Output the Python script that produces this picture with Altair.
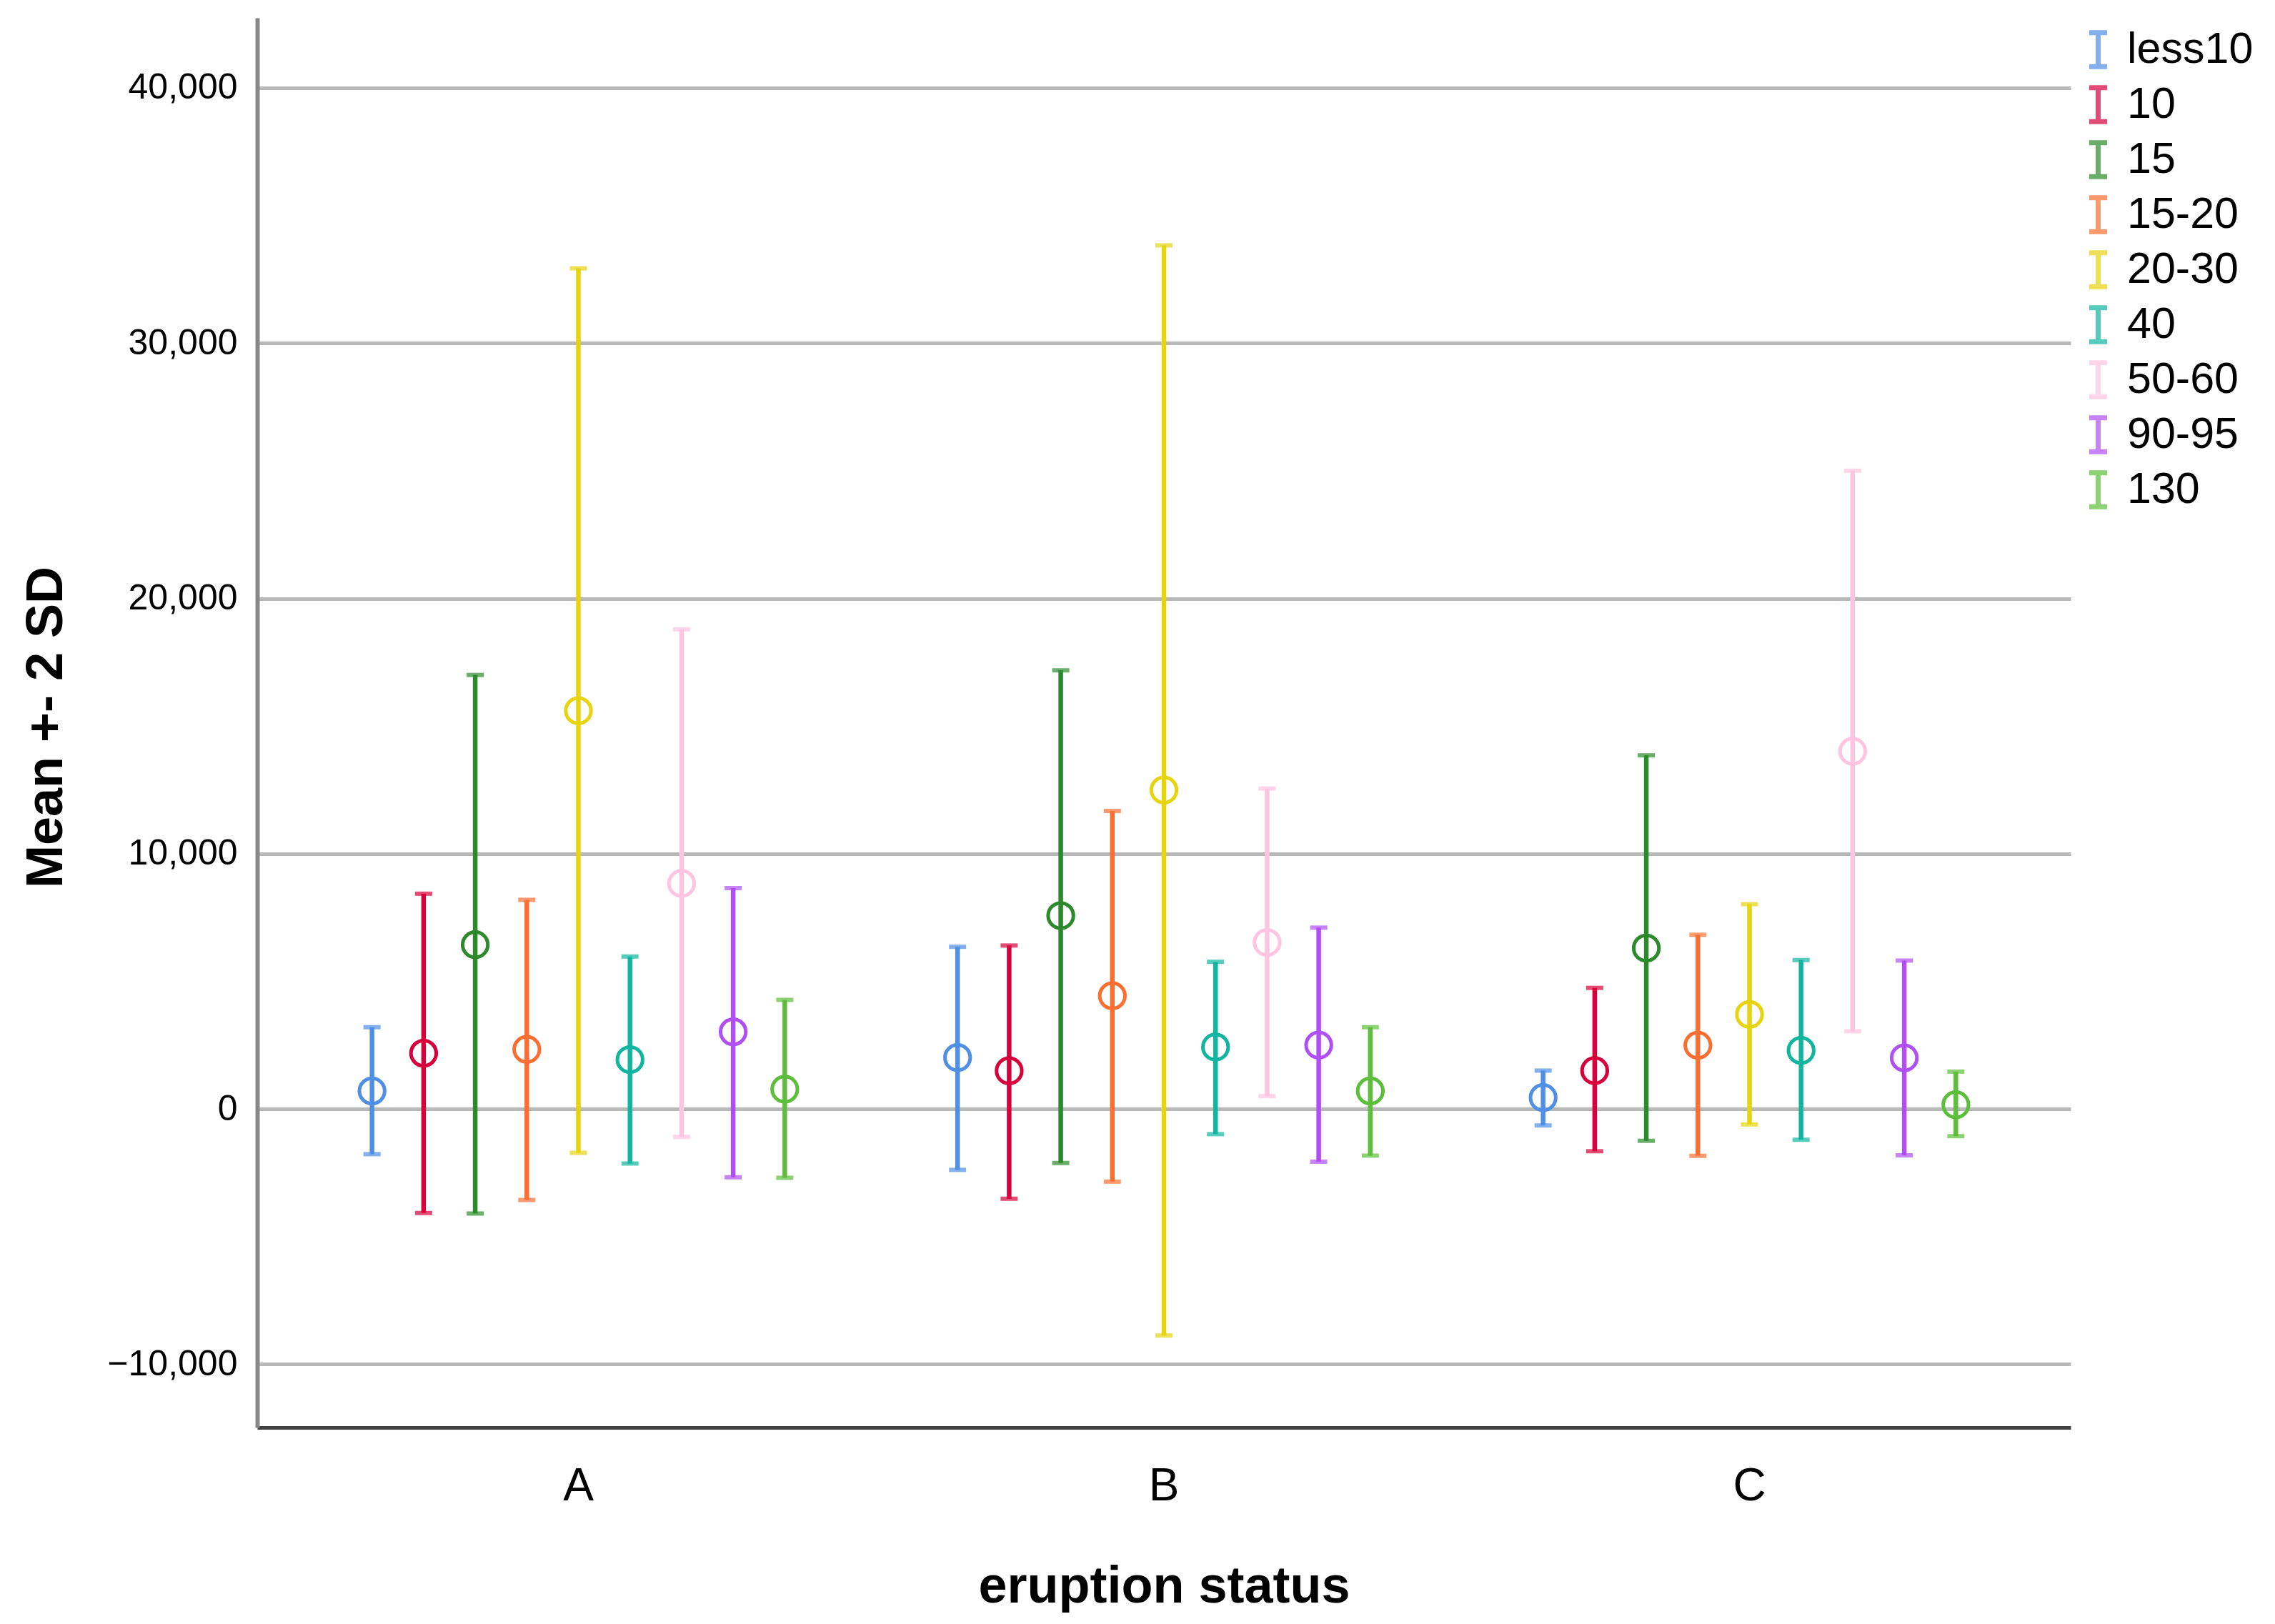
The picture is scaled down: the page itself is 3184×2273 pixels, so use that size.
import altair as alt
import pandas as pd

groups = ["A", "B", "C"]
ages = ["less10", "10", "15", "15-20", "20-30", "40", "50-60", "90-95", "130"]
colors = ["#4F8FE6", "#D7003B", "#2C8A2C", "#FA6E32", "#E6D40E",
          "#11B5A0", "#FFC5E0", "#B04FF3", "#5DBE3B"]

mean_A = [700, 2180, 6430, 2330, 15600, 1930, 8830, 3020, 770]
hi_A = [3200, 8430, 17000, 8190, 32930, 5970, 18790, 8650, 4270]
lo_A = [-1775, -4080, -4100, -3570, -1720, -2140, -1100, -2680, -2700]

mean_B = [2010, 1490, 7570, 4430, 12490, 2420, 6520, 2500, 700]
hi_B = [6350, 6400, 17180, 11670, 33830, 5760, 12550, 7100, 3200]
lo_B = [-2390, -3520, -2120, -2850, -8880, -990, 500, -2070, -1830]

mean_C = [440, 1500, 6300, 2490, 3700, 2290, 14010, 2000, 160]
hi_C = [1500, 4740, 13850, 6820, 8020, 5830, 25000, 5810, 1460]
lo_C = [-650, -1660, -1250, -1840, -610, -1210, 3040, -1820, -1070]

y_ticks = [-10000, 0, 10000, 20000, 30000, 40000]

rows = []
for g, ms, los, his in zip(groups, [mean_A, mean_B, mean_C], [lo_A, lo_B, lo_C], [hi_A, hi_B, hi_C]):
    for a, m, lo, hi in zip(ages, ms, los, his):
        rows.append({"status": g, "age": a, "mean": m, "lo": lo, "hi": hi})
df = pd.DataFrame(rows)

W, H = 2538, 1973

x_enc = alt.X(
    "status:N",
    title="eruption status",
    scale=alt.Scale(paddingInner=0.207, paddingOuter=0.152),
    axis=alt.Axis(
        labelAngle=0, ticks=False, grid=False,
        domainColor="#404040", domainWidth=5,
        labelFont="Liberation Sans", labelFontSize=64, labelColor="black",
        labelPadding=50,
        titleFont="Liberation Sans", titleFontSize=72, titleFontWeight="bold",
        titleColor="black", titleBaseline="alphabetic", titleAlign="center",
        titleX=W / 2, titleY=244,
    ),
)
xo_enc = alt.XOffset("age:N", sort=ages, scale=alt.Scale(domain=ages, paddingInner=0, paddingOuter=0))
color_enc = alt.Color(
    "age:N", sort=ages,
    scale=alt.Scale(domain=ages, range=colors),
    legend=alt.Legend(
        title=None, orient="none", legendX=2546, legendY=14, padding=0,
        labelFont="Liberation Sans", labelFontSize=61, labelColor="black",
        symbolType="M-0.5,-0.95H0.5M0,-0.95V0.95M-0.5,0.95H0.5",
        symbolSize=2500, symbolStrokeWidth=7, symbolFillColor="transparent",
        labelOffset=10, rowPadding=0, labelLimit=400,
    ),
)

y_scale = alt.Scale(domain=[-12484, 42743], nice=False, zero=False)
y_axis = alt.Axis(
    values=y_ticks, format=",.0f", grid=True, gridColor="#b8b8b8", gridWidth=5,
    domain=True, domainColor="#888888", domainWidth=6, ticks=False,
    labelFont="Liberation Sans", labelFontSize=50, labelColor="black", labelPadding=28,
    labelLimit=400,
    titleFont="Liberation Sans", titleFontSize=72, titleFontWeight="bold", titleColor="black",
    titleX=-274, titleY=H / 2 + 6, titleBaseline="alphabetic", titleAngle=270, titleAlign="center",
)
y_title = "Mean +- 2 SD"

base = alt.Chart(df)

rules = base.mark_rule(strokeWidth=6.5).encode(
    x=x_enc, xOffset=xo_enc, color=color_enc,
    y=alt.Y("lo:Q", scale=y_scale, axis=y_axis, title=y_title),
    y2="hi:Q",
)
caps_lo = base.mark_tick(size=24, thickness=6).encode(
    x=x_enc, xOffset=xo_enc, color=color_enc,
    y=alt.Y("lo:Q", scale=y_scale, axis=y_axis, title=y_title),
)
caps_hi = base.mark_tick(size=24, thickness=6).encode(
    x=x_enc, xOffset=xo_enc, color=color_enc,
    y=alt.Y("hi:Q", scale=y_scale, axis=y_axis, title=y_title),
)
points = base.mark_point(shape="circle", filled=False, size=1250, strokeWidth=5, opacity=1).encode(
    x=x_enc, xOffset=xo_enc, color=color_enc,
    y=alt.Y("mean:Q", scale=y_scale, axis=y_axis, title=y_title),
)

chart = alt.layer(rules, caps_lo, caps_hi, points).properties(
    width=W, height=H,
    background="white",
    autosize=alt.AutoSizeParams(type="none"),
    padding={"left": 352, "top": 17, "right": 270, "bottom": 259},
).configure_view(stroke="transparent", strokeWidth=0)

chart.save("out.html", embed_options={"renderer": "svg", "actions": False})
